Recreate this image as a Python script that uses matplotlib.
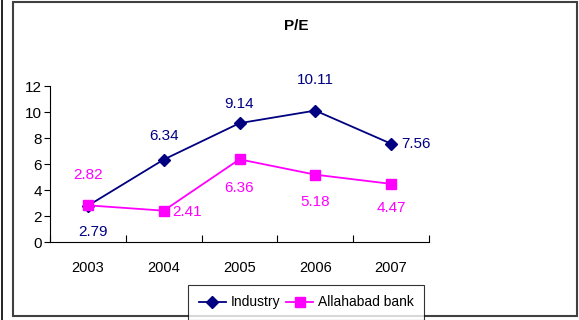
import numpy as np
import matplotlib.pyplot as plt
from matplotlib import font_manager
from matplotlib.patches import Rectangle
from matplotlib.lines import Line2D

years = ['2003', '2004', '2005', '2006', '2007']
industry = [2.79, 6.34, 9.14, 10.11, 7.56]
allahabad = [2.82, 2.41, 6.36, 5.18, 4.47]

# label offsets (points) for each data label
ind_off = [(4, -19), (0, 17), (0, 14), (0, 22), (18, 0)]
all_off = [(0, 22), (17, -1), (0, -21), (0, -20), (0, -17)]

names = set(f.name for f in font_manager.fontManager.ttflist)
fam = 'Liberation Sans Narrow' if 'Liberation Sans Narrow' in names else 'Liberation Sans'
plt.rcParams['font.family'] = [fam, 'DejaVu Sans']

fig = plt.figure(figsize=(5.79, 3.2), dpi=100)
ax = fig.add_axes([50/579, 1-242/320, 379/579, 156/320])

x = np.arange(len(years))
navy = '#000080'
mag = '#FF00FF'
ax.plot(x, industry, color=navy, marker='D', markersize=6, lw=1.3, label='Industry')
ax.plot(x, allahabad, color=mag, marker='s', markersize=7, lw=1.3, label='Allahabad bank')

for i in range(len(years)):
    ax.annotate(f'{industry[i]:g}', (x[i], industry[i]), xytext=ind_off[i],
                textcoords='offset points', ha='center', va='center',
                color=navy, fontsize=11)
    ax.annotate(f'{allahabad[i]:g}', (x[i], allahabad[i]), xytext=all_off[i],
                textcoords='offset points', ha='center', va='center',
                color=mag, fontsize=11)

ax.set_xlim(-0.5, 4.5)
ax.set_ylim(0, 12)
ax.set_yticks(range(0, 13, 2))
ax.set_xticks(np.arange(-0.5, 5, 1))
ax.set_xticklabels([])
ax.set_xticks(x, minor=True)
ax.set_xticklabels(years, minor=True)
ax.tick_params(axis='x', which='minor', length=0, pad=14, labelsize=10.5)
ax.tick_params(axis='x', which='major', length=5, direction='in', width=0.8)
ax.tick_params(axis='y', length=4, width=0.8, labelsize=11, pad=2)
ax.spines['top'].set_visible(False)
ax.spines['right'].set_visible(False)

fig.text(296/579, 1-26/320, 'P/E', ha='center', va='center', fontsize=11, fontweight='bold')

leg = fig.legend(loc='upper center', bbox_to_anchor=(306/579, 1-285/320), ncol=2,
                 frameon=True, fancybox=False, edgecolor='black', fontsize=10,
                 handlelength=2.0, columnspacing=0.4, handletextpad=0.3,
                 borderpad=0.75, borderaxespad=0)
leg.get_frame().set_linewidth(0.8)

# outer chart border
fig.add_artist(Rectangle((13/579, 1-316/320), 564/579, 314/320, transform=fig.transFigure,
                         fill=False, edgecolor='#404040', lw=1.5))
fig.add_artist(Line2D([1.5/579, 1.5/579], [0, 1], transform=fig.transFigure, color='black', lw=1.2))

fig.savefig('out.png', dpi=100)
